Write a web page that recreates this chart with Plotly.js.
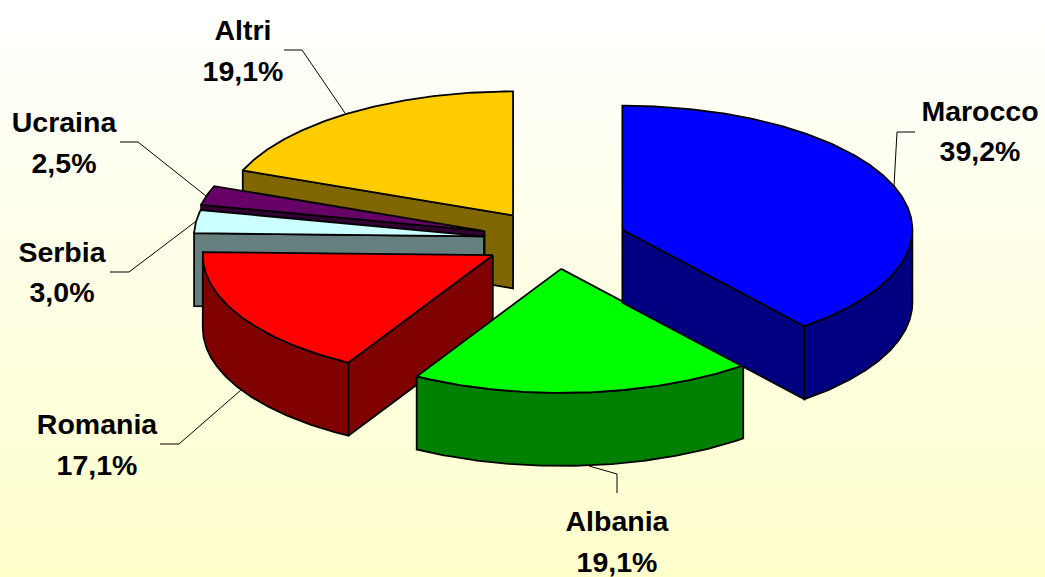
<!DOCTYPE html>
<html>
<head>
<meta charset="utf-8">
<script src="https://cdn.plot.ly/plotly-3.0.1.min.js"></script>
<style>
html,body{margin:0;padding:0;width:1045px;height:577px;overflow:hidden;background:linear-gradient(to bottom,#ffffff 0%,#ffffcc 100%);}
#chart{width:1045px;height:577px;}
</style>
</head>
<body>
<div id="chart"></div>
<script>
// Data (clockwise from 12 o'clock)
const categories = ["Marocco", "Albania", "Romania", "Serbia", "Ucraina", "Altri"];
const shares = [39.2, 19.1, 17.1, 3.0, 2.5, 19.1];

// Styles
const topColors = ["#0000FF", "#00FF00", "#FF0000", "#CCFFFF", "#660066", "#FFCC00"];
const sideColors = ["#000080", "#008000", "#800000", "#668080", "#330033", "#806600"];
const paintOrder = [5, 4, 3, 2, 1, 0];

// Pie geometry (projection of the tilted, exploded pie)
const CENTER = {x: 554, y: 240}, RX = 290, RY = 124, DEPTH = 73, EXPLODE = 0.25;
const nudgeX = [0, 1.5, 2, 2, 0, 0];
const nudgeY = [0, -2, 0, 0, 0, 1];

// Label placement
const labelX = [980, 617, 97, 62, 64, 243];
const nameY = [114, 524, 427, 255, 125, 33];
const pctY = [154, 565, 468, 295, 166, 74];
const leaderX = [[915, 897, 894], [589, 617, 617], [160, 179, 241], [110, 129, 195], [120, 138, 206], [284, 302, 345]];
const leaderY = [[132, 132, 186], [466, 474, 493], [444, 444, 390], [272, 272, 222], [142, 142, 196], [50, 50, 113]];

const rad = d => d * Math.PI / 180;
const total = shares.reduce((a, b) => a + b, 0);
let cum = 0;
const slices = shares.map((v, i) => {
  const a0 = cum / total * 360; cum += v;
  const a1 = cum / total * 360, mid = (a0 + a1) / 2;
  return {a0, a1,
    cx: CENTER.x + nudgeX[i] + EXPLODE * RX * Math.sin(rad(mid)),
    cy: CENTER.y + nudgeY[i] - EXPLODE * RY * Math.cos(rad(mid))};
});
const px = (s, a) => s.cx + RX * Math.sin(rad(a));
const py = (s, a) => s.cy - RY * Math.cos(rad(a));
const poly = (xs, ys, color) => ({
  type: "scatter", mode: "lines", x: xs.concat(xs[0]), y: ys.concat(ys[0]),
  fill: "toself", fillcolor: color, line: {color: "#000000", width: 1.8, shape: "linear"},
  hoverinfo: "skip", showlegend: false
});
const arc = (a0, a1) => {
  const out = [], n = Math.max(2, Math.ceil((a1 - a0) * 2));
  for (let i = 0; i <= n; i++) out.push(a0 + (a1 - a0) * i / n);
  return out;
};

const traces = [];
paintOrder.forEach(i => {
  const s = slices[i], side = sideColors[i];
  const radial = a => poly(
    [s.cx, px(s, a), px(s, a), s.cx],
    [s.cy, py(s, a), py(s, a) + DEPTH, s.cy + DEPTH], side);
  // cut faces turned towards the viewer
  if (Math.sin(rad(s.a1)) > 0.001) traces.push(radial(s.a1));
  if (Math.sin(rad(s.a0)) < -0.001) traces.push(radial(s.a0));
  // outer wall, front half only
  const w0 = Math.max(s.a0, 90), w1 = Math.min(s.a1, 270);
  if (w1 > w0) {
    const as = arc(w0, w1), bs = as.slice().reverse();
    traces.push(poly(
      as.map(a => px(s, a)).concat(bs.map(a => px(s, a))),
      as.map(a => py(s, a)).concat(bs.map(a => py(s, a) + DEPTH)), side));
  }
  // top face
  const as = arc(s.a0, s.a1);
  traces.push(poly([s.cx].concat(as.map(a => px(s, a))), [s.cy].concat(as.map(a => py(s, a))), topColors[i]));
});

// Leader lines
categories.forEach((c, i) => traces.push({
  type: "scatter", mode: "lines", x: leaderX[i], y: leaderY[i],
  line: {color: "#000000", width: 1}, hoverinfo: "skip", showlegend: false
}));

// Labels
const labelFont = {family: "'Liberation Sans', Arial, sans-serif", size: 28.5, color: "#000000", weight: 700};
const fmt = v => v.toFixed(1).replace(".", ",") + "%";
traces.push({type: "scatter", mode: "text", x: labelX, y: nameY, text: categories,
  textposition: "middle center", textfont: labelFont, hoverinfo: "skip", showlegend: false, cliponaxis: false});
traces.push({type: "scatter", mode: "text", x: labelX, y: pctY, text: shares.map(fmt),
  textposition: "middle center", textfont: labelFont, hoverinfo: "skip", showlegend: false, cliponaxis: false});

const layout = {
  width: 1045, height: 577,
  margin: {l: 0, r: 0, t: 0, b: 0},
  paper_bgcolor: "rgba(0,0,0,0)", plot_bgcolor: "rgba(0,0,0,0)",
  showlegend: false,
  xaxis: {visible: false, range: [0, 1045], fixedrange: true},
  yaxis: {visible: false, range: [577, 0], fixedrange: true}
};
Plotly.newPlot("chart", traces, layout, {displayModeBar: false, staticPlot: true});
</script>
</body>
</html>
